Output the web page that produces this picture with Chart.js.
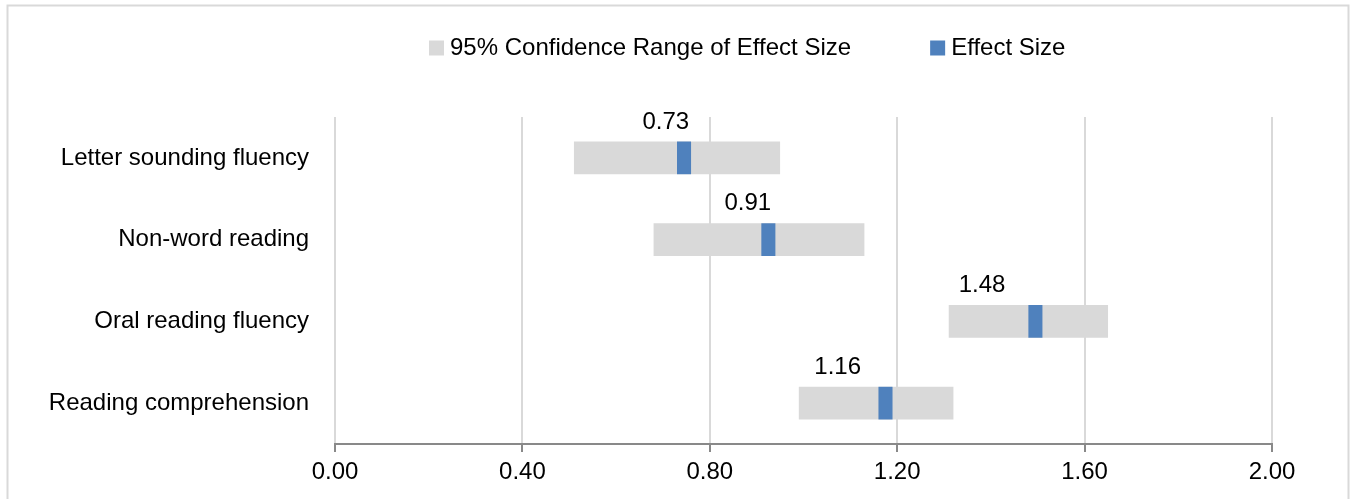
<!DOCTYPE html>
<html>
<head>
<meta charset="utf-8">
<title>Effect sizes</title>
<script src="https://cdn.jsdelivr.net/npm/chart.js@4.4.0/dist/chart.umd.min.js"></script>
<style>
  html, body { margin: 0; padding: 0; background: #fff; overflow: hidden; }
  #wrap { width: 1351px; height: 499px; position: relative; }
</style>
</head>
<body>
<div id="wrap"><canvas id="effectChart"></canvas></div>
<script>
// Chart data
const outcomes = ["Letter sounding fluency", "Non-word reading", "Oral reading fluency", "Reading comprehension"]
const ciLow = [0.51, 0.68, 1.31, 0.99]
const ciHigh = [0.95, 1.13, 1.65, 1.32]
const effectSize = [0.73, 0.91, 1.48, 1.16]
const labelAt = [0.706, 0.881, 1.381, 1.073] // value label anchors, in axis units
const xTicks = [0, 0.4, 0.8, 1.2, 1.6, 2.0]
const markerWidth = 0.03

const FONT = "'Liberation Sans', Arial, sans-serif"
const FONT_SIZE = 24

// Light grey frame around the whole chart
const chartFrame = {
  id: "chartFrame",
  beforeDraw(chart) {
    const ctx = chart.ctx
    ctx.save()
    ctx.strokeStyle = "#d9d9d9"
    ctx.lineWidth = 2
    ctx.strokeRect(7.5, 5.5, 1341, 600)
    ctx.restore()
  },
}

// Legend drawn by hand so the spacing matches the original
const legendBoxes = {
  id: "legendBoxes",
  afterDraw(chart) {
    const ctx = chart.ctx
    ctx.save()
    ctx.font = `${FONT_SIZE}px ${FONT}`
    ctx.textBaseline = "middle"
    ctx.textAlign = "left"
    let x = 429
    const y = 48
    chart.data.datasets.slice().reverse().forEach((ds) => {
      ctx.fillStyle = ds.backgroundColor
      ctx.fillRect(x, y - 7.5, 15, 15)
      ctx.fillStyle = "#000"
      ctx.fillText(ds.label, x + 21, y)
      x += 21 + ctx.measureText(ds.label).width + 79
    })
    ctx.restore()
  },
}

// Effect size labels above each confidence bar
const valueLabels = {
  id: "valueLabels",
  afterDatasetsDraw(chart) {
    const ctx = chart.ctx
    const meta = chart.getDatasetMeta(1)
    const xs = chart.scales.x
    ctx.save()
    ctx.font = `${FONT_SIZE}px ${FONT}`
    ctx.fillStyle = "#000"
    ctx.textAlign = "center"
    ctx.textBaseline = "alphabetic"
    meta.data.forEach((bar, i) => {
      const top = bar.y - bar.height / 2
      ctx.fillText(effectSize[i].toFixed(2), xs.getPixelForValue(labelAt[i]), top - 13)
    })
    ctx.restore()
  },
}

const ctx = document.getElementById("effectChart").getContext("2d")

new Chart(ctx, {
  type: "bar",
  data: {
    labels: outcomes,
    datasets: [
      {
        label: "Effect Size",
        data: effectSize.map((v) => [v, v + markerWidth]),
        backgroundColor: "#4f81bd",
      },
      {
        label: "95% Confidence Range of Effect Size",
        data: ciLow.map((lo, i) => [lo, ciHigh[i]]),
        backgroundColor: "#d9d9d9",
      },
    ],
  },
  options: {
    indexAxis: "y",
    responsive: true,
    maintainAspectRatio: false,
    animation: false,
    grouped: false,
    barPercentage: 0.4,
    categoryPercentage: 1,
    layout: { padding: { top: 117, right: 79, bottom: 0, left: 0 } },
    plugins: {
      legend: { display: false },
      tooltip: { enabled: false },
    },
    scales: {
      x: {
        min: 0,
        max: 2,
        afterBuildTicks: (s) => {
          s.ticks = xTicks.map((v) => ({ value: v }))
        },
        grid: { color: "#d9d9d9", lineWidth: 2, tickColor: "#898989", tickLength: 8 },
        border: { color: "#898989", width: 2 },
        ticks: {
          color: "#000",
          font: { family: FONT, size: FONT_SIZE },
          padding: 6,
          maxRotation: 0,
          autoSkip: false,
          callback: (v) => Number(v).toFixed(2),
        },
        afterFit: (s) => {
          s.height = 55
        },
      },
      y: {
        grid: { display: false, drawTicks: false },
        border: { display: false },
        ticks: { color: "#000", font: { family: FONT, size: FONT_SIZE }, padding: 26 },
        afterFit: (s) => {
          s.width = 335
        },
      },
    },
  },
  plugins: [chartFrame, legendBoxes, valueLabels],
})
</script>
</body>
</html>
